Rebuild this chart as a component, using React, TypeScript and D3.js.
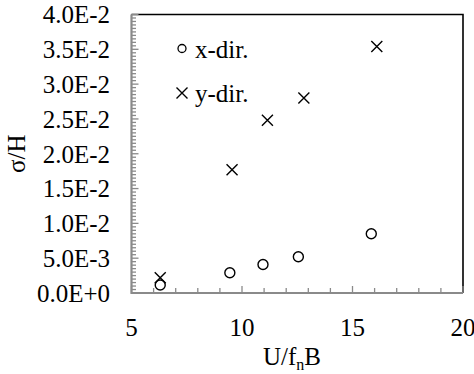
import React from "react";
import * as d3 from "d3";

const xdirU = [6.3, 9.45, 10.95, 12.55, 15.85];
const xdirS = [0.00115, 0.0029, 0.0041, 0.0052, 0.0085];
const ydirU = [6.3, 9.55, 11.15, 12.8, 16.1];
const ydirS = [0.0022, 0.0177, 0.0248, 0.028, 0.0354];
const xTicks = [5, 10, 15, 20];
const yTicks = [0, 0.005, 0.01, 0.015, 0.02, 0.025, 0.03, 0.035, 0.04];
const yTickLabels = ["0.0E+0", "5.0E-3", "1.0E-2", "1.5E-2", "2.0E-2", "2.5E-2", "3.0E-2", "3.5E-2", "4.0E-2"];
const legendLabels = ["x-dir.", "y-dir."];

const W = 474, H = 374;
const L = 131.5, R = 463, T = 14.5, B = 293;
const FONT = '"Times New Roman", Tinos, Times, serif';
const FS = 25;
const GRAY = "#8a8a8a";

export default function App() {
  const x = d3.scaleLinear().domain([5, 20]).range([L, R]);
  const y = d3.scaleLinear().domain([0, 0.04]).range([B, T]);
  const xMinor = d3.range(5, 20.001, 1);
  const yMinor = d3.range(0, 0.04001, 0.0005);
  const ts = { fontFamily: FONT, fontSize: FS };
  const cross = (cx: number, cy: number, s: number, key: string) => (
    <path key={key} d={`M${cx - s},${cy - s}L${cx + s},${cy + s}M${cx - s},${cy + s}L${cx + s},${cy - s}`} stroke="#000" strokeWidth={1.4} fill="none" />
  );
  return (
    <svg width={W} height={H} style={{ position: "absolute", left: 0, top: 0, background: "#fff", fontFamily: FONT }}>
      <rect x={0} y={0} width={W} height={H} fill="#fff" />
      <path d={`M${L},${T}H${R}V${B}`} stroke="#000" strokeWidth={1.6} fill="none" />
      {yMinor.map((v, i) => {
        const major = i % 10 === 0;
        return <line key={"ym" + i} x1={L} x2={L + (major ? 7 : 4.5)} y1={y(v)} y2={y(v)} stroke={GRAY} strokeWidth={1.3} />;
      })}
      {xMinor.map((v, i) => {
        const major = i % 5 === 0;
        return <line key={"xm" + i} y1={B} y2={B - (major ? 7 : 5)} x1={x(v)} x2={x(v)} stroke={GRAY} strokeWidth={1.3} />;
      })}
      <path d={`M${L},${T}V${B}H${R}`} stroke={GRAY} strokeWidth={2.2} fill="none" />
      {yTicks.map((v, i) => (
        <text key={"yl" + i} x={110} y={y(v)} dy="0.35em" textAnchor="end" style={ts} fill="#000">{yTickLabels[i]}</text>
      ))}
      {xTicks.map((v, i) => (
        <text key={"xl" + i} x={x(v)} y={336} textAnchor="middle" style={ts} fill="#000">{v}</text>
      ))}
      <text x={292} y={365} textAnchor="middle" style={ts} fill="#000">
        U/f<tspan style={{ fontSize: 16 }} dy={5}>n</tspan><tspan dy={-5}>B</tspan>
      </text>
      <text transform={`translate(${25},${(T + B) / 2}) rotate(-90)`} textAnchor="middle" style={ts} fill="#000">σ/H</text>
      {xdirU.map((u, i) => (
        <circle key={"c" + i} cx={x(u)} cy={y(xdirS[i])} r={5} fill="none" stroke="#000" strokeWidth={1.4} />
      ))}
      {ydirU.map((u, i) => cross(x(u), y(ydirS[i]), 5.5, "x" + i))}
      <circle cx={182} cy={48.5} r={4} fill="none" stroke="#000" strokeWidth={1.3} />
      <text x={195} y={50} dy="0.32em" style={ts} fill="#000">{legendLabels[0]}</text>
      {cross(182, 93, 5.5, "lg")}
      <text x={195} y={94} dy="0.32em" style={ts} fill="#000">{legendLabels[1]}</text>
    </svg>
  );
}
